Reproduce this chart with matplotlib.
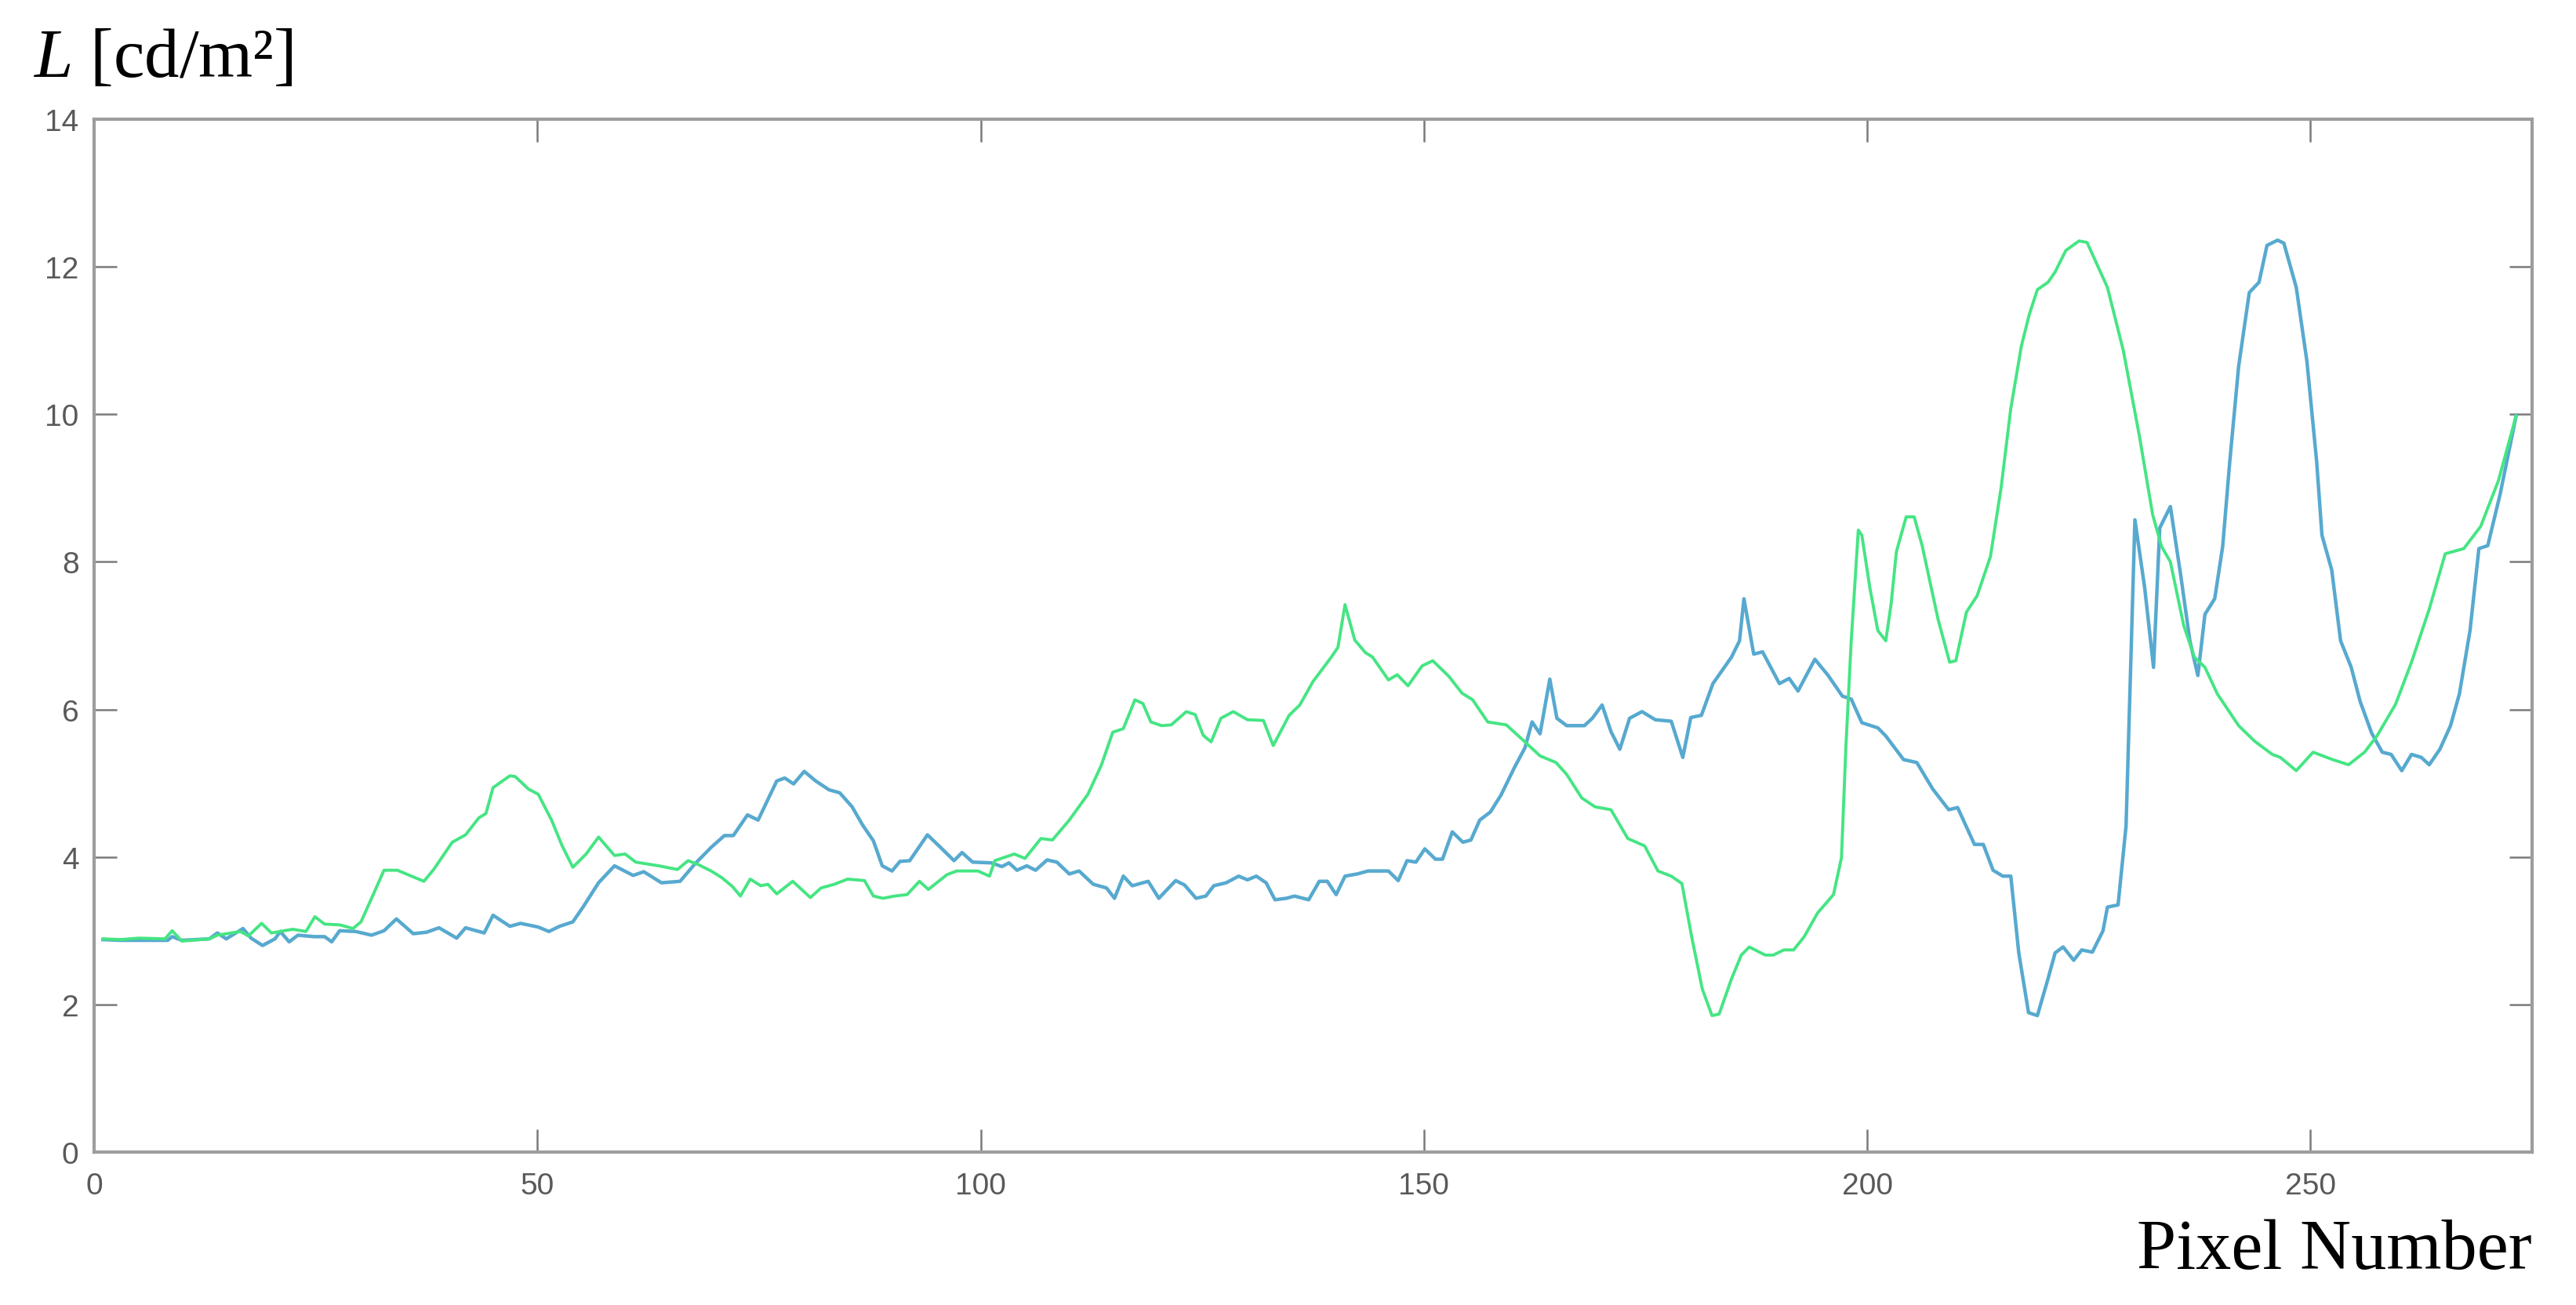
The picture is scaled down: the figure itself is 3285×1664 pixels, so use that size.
##Imports

import numpy as np
from matplotlib import pyplot as plt

##Donnees

# courbe bleue (x = numero de pixel, y = luminance)
blue_x = [1, 3, 5, 8.3, 8.8, 9.9, 13, 13.9, 14.9, 16.8, 17.7, 19, 20.4, 21, 22, 23, 24.8, 26, 26.8, 27.7,
          29.5, 31.3, 32.7, 34.1, 36, 37.5, 38.9, 40.9, 41.9, 44, 45, 46.9, 48.1, 50.1, 51.3, 52.5, 54, 55.2,
          56.9, 58.7, 60.8, 62, 64, 66.1, 67.8, 69.6, 71.1, 72.1, 73.7, 74.9, 77, 77.9, 78.9, 80.1, 81.4, 82.9,
          84.1, 85.5, 86.7, 87.9, 88.9, 90, 90.9, 92, 94, 95.3, 97, 97.9, 99.1, 101.2, 102.4, 103.2, 104.1,
          105.2, 106.2, 107.5, 108.6, 110, 111.1, 112.7, 114.2, 115.1, 116.1, 117.1, 118.9, 120.1, 122, 123,
          124.3, 125.4, 126.3, 127.7, 129.1, 130.1, 131.1, 132.2, 133.2, 134.5, 135.4, 137, 138.2, 139.1,
          140.1, 141.1, 142.5, 143.7, 146, 147.1, 148.1, 149.1, 150.1, 151.3, 152.1, 153.2, 154.4, 155.3,
          156.3, 157.5, 158.7, 160.2, 161.4, 162.2, 163.1, 164.2, 165, 166.1, 168.1, 169, 170.1, 171.1, 172.1,
          173.2, 174.6, 176.1, 177.9, 179.2, 180.1, 181.3, 182.6, 184.7, 185.6, 186.1, 187.2, 188.2, 190.1,
          191.2, 192.2, 194.1, 195.6, 197.2, 198.2, 199.4, 201.2, 202.1, 204.1, 205.6, 207.4, 209.2, 210.2,
          212.1, 213.1, 214.2, 215.3, 216.2, 217.1, 218.2, 219.2, 220.4, 221.2, 222.1, 223.3, 224.2, 225.4,
          226.6, 227.1, 228.3, 229.2, 229.8, 230.2, 231.3, 232.3, 233, 234.2, 235.4, 236.4, 237.3, 238.1,
          239.2, 240.1, 240.9, 241.9, 243.1, 244.2, 245.1, 246.3, 247, 248.4, 249.6, 250.7, 251.3, 252.4,
          253.4, 254.6, 255.6, 256.9, 258.1, 259.1, 260.3, 261.4, 262.5, 263.4, 264.6, 265.8, 266.8, 268,
          269, 270, 271.4, 273.2]
blue_y = [2.88, 2.87, 2.87, 2.87, 2.92, 2.87, 2.89, 2.97, 2.89, 3.03, 2.90, 2.80, 2.89, 2.99, 2.85, 2.94, 2.92,
          2.92, 2.85, 3.00, 2.99, 2.94, 3.00, 3.16, 2.96, 2.98, 3.04, 2.90, 3.04, 2.97, 3.21, 3.06, 3.10, 3.05,
          2.99, 3.06, 3.12, 3.33, 3.65, 3.88, 3.75, 3.80, 3.65, 3.67, 3.91, 4.13, 4.29, 4.29, 4.57, 4.50, 5.03,
          5.07, 4.99, 5.16, 5.03, 4.91, 4.87, 4.68, 4.43, 4.22, 3.88, 3.81, 3.94, 3.95, 4.30, 4.15, 3.95, 4.06,
          3.93, 3.92, 3.87, 3.92, 3.82, 3.88, 3.82, 3.96, 3.93, 3.77, 3.81, 3.63, 3.58, 3.44, 3.74, 3.61, 3.67,
          3.44, 3.68, 3.62, 3.44, 3.47, 3.61, 3.65, 3.74, 3.69, 3.74, 3.65, 3.42, 3.44, 3.47, 3.42, 3.67, 3.67,
          3.49, 3.74, 3.77, 3.81, 3.81, 3.68, 3.95, 3.93, 4.11, 3.97, 3.97, 4.34, 4.20, 4.23, 4.50, 4.61, 4.84,
          5.21, 5.48, 5.83, 5.67, 6.41, 5.88, 5.78, 5.78, 5.88, 6.06, 5.70, 5.46, 5.88, 5.97, 5.86, 5.84, 5.35,
          5.89, 5.92, 6.35, 6.71, 6.93, 7.50, 6.75, 6.78, 6.35, 6.42, 6.25, 6.68, 6.46, 6.18, 6.14, 5.82, 5.75,
          5.64, 5.32, 5.28, 4.92, 4.64, 4.67, 4.17, 4.17, 3.82, 3.74, 3.74, 2.70, 1.89, 1.85, 2.35, 2.70, 2.78,
          2.60, 2.74, 2.71, 3.00, 3.32, 3.35, 4.42, 6.93, 8.57, 7.65, 6.57, 8.46, 8.75, 7.79, 6.93, 6.46, 7.29,
          7.50, 8.21, 9.36, 10.65, 11.65, 11.79, 12.29, 12.36, 12.32, 11.72, 10.72, 9.36, 8.36, 7.89, 6.93,
          6.57, 6.11, 5.68, 5.42, 5.39, 5.17, 5.39, 5.35, 5.25, 5.46, 5.78, 6.21, 7.07, 8.18, 8.22, 8.92, 9.98]

# courbe verte
green_x = [1, 3, 5, 8, 8.8, 9.9, 13, 13.9, 16.5, 17.4, 18.9, 20, 22.4, 23.9, 24.9, 26, 27.7, 29.2, 30.1, 31.3,
           32.7, 34.2, 37.2, 38.3, 40.4, 41.9, 43.4, 44.2, 45, 46.9, 47.5, 49, 50.1, 51.6, 52.8, 54, 55.5, 56.9,
           58.7, 59.9, 61.1, 63.7, 65.8, 67, 68.1, 69.6, 70.8, 72, 72.9, 74, 75.2, 76, 77, 78.8, 80.8, 82, 83.5,
           85, 86.9, 87.9, 89, 90.3, 91.7, 93.1, 94.1, 96.2, 97.3, 99.7, 101, 101.6, 103.8, 105, 106.8, 108.1,
           110, 112.1, 113.6, 114.9, 116.1, 117.4, 118.3, 119.2, 120.4, 121.5, 123.2, 124.2, 125.1, 126, 127.1,
           128.5, 130.1, 131.9, 133, 134.8, 136, 137.5, 139.5, 140.3, 141.1, 142.2, 143.4, 144.2, 146, 147,
           148.2, 149.8, 151, 152.8, 154.3, 155.5, 157.2, 159.3, 161.4, 163.1, 164.9, 166.1, 167.8, 169.3,
           171.1, 173, 174.9, 176.4, 177.9, 179.1, 180.2, 181.4, 182.5, 183.3, 184.7, 185.8, 186.7, 188.5,
           189.4, 190.6, 191.7, 192.9, 194.4, 196.2, 197.1, 197.6, 198.2, 199, 199.4, 200.3, 201.2, 202.1,
           202.7, 203.3, 204.4, 205.3, 206.2, 208, 209.3, 210, 211.2, 212.4, 213.9, 215.1, 216.2, 217.4, 218.3,
           219.2, 220.4, 221.2, 222.4, 223.9, 224.8, 227.1, 228.9, 230.7, 232.2, 233.2, 234.2, 235.7, 236.9,
           238.1, 239.5, 241.9, 243.7, 245.7, 246.6, 248.4, 250.3, 252.5, 254.3, 256.1, 257.5, 259.6, 261.4,
           263.4, 265.2, 267.3, 269.2, 271.2, 273.2]
green_y = [2.89, 2.88, 2.90, 2.89, 3.00, 2.86, 2.89, 2.94, 2.99, 2.93, 3.10, 2.97, 3.02, 2.99, 3.19, 3.09, 3.08,
           3.03, 3.12, 3.44, 3.82, 3.82, 3.67, 3.83, 4.20, 4.30, 4.53, 4.59, 4.94, 5.10, 5.09, 4.92, 4.85, 4.50,
           4.15, 3.86, 4.04, 4.27, 4.02, 4.04, 3.93, 3.88, 3.83, 3.95, 3.90, 3.81, 3.72, 3.60, 3.47, 3.70, 3.61,
           3.63, 3.50, 3.67, 3.45, 3.58, 3.63, 3.70, 3.68, 3.47, 3.44, 3.47, 3.49, 3.67, 3.56, 3.76, 3.81, 3.81,
           3.74, 3.95, 4.04, 3.98, 4.25, 4.23, 4.50, 4.85, 5.24, 5.69, 5.74, 6.13, 6.08, 5.83, 5.78, 5.79, 5.97,
           5.93, 5.65, 5.56, 5.88, 5.97, 5.86, 5.85, 5.51, 5.92, 6.06, 6.38, 6.70, 6.84, 7.42, 6.94, 6.77, 6.71,
           6.40, 6.47, 6.32, 6.59, 6.66, 6.45, 6.22, 6.13, 5.83, 5.79, 5.56, 5.37, 5.28, 5.12, 4.80, 4.68, 4.64,
           4.25, 4.15, 3.81, 3.74, 3.64, 2.92, 2.21, 1.85, 1.87, 2.35, 2.67, 2.78, 2.67, 2.67, 2.74, 2.74, 2.92,
           3.24, 3.49, 3.99, 5.50, 6.93, 8.43, 8.36, 7.65, 7.07, 6.93, 7.43, 8.14, 8.61, 8.61, 8.22, 7.22, 6.64,
           6.66, 7.32, 7.54, 8.07, 9.00, 10.08, 10.93, 11.36, 11.69, 11.79, 11.93, 12.22, 12.35, 12.33, 11.72,
           10.86, 9.71, 8.64, 8.21, 8.00, 7.14, 6.71, 6.57, 6.21, 5.78, 5.57, 5.39, 5.35, 5.17, 5.42, 5.32, 5.25,
           5.42, 5.64, 6.07, 6.64, 7.36, 8.11, 8.18, 8.48, 9.10, 9.98]

x_ticks = [0, 50, 100, 150, 200, 250]
y_ticks = [0, 2, 4, 6, 8, 10, 12, 14]

##Figure

W, H = 3285, 1665
fig = plt.figure(figsize=(W / 100, H / 100), dpi=100)
ax = fig.add_axes([120 / W, 1 - 1470 / H, (3229 - 120) / W, (1470 - 153) / H])

ax.plot(blue_x, blue_y, color='#57a9cf', linewidth=3.2, solid_joinstyle='round')  # bleu dessous
ax.plot(green_x, green_y, color='#45e583', linewidth=2.8, solid_joinstyle='round')  # vert par dessus

ax.set_xlim(0, 275)
ax.set_ylim(0, 14)
ax.set_xticks(x_ticks)
ax.set_yticks(y_ticks)

# style "matlab" : ticks vers l'interieur des 4 cotes, axes gris
for s in ax.spines.values():
    s.set_color('#9d9d9d')
    s.set_linewidth(3)
ax.tick_params(direction='in', length=21, width=1.8, color='#7a7a7a',
               top=True, right=True, labelsize=28, labelcolor='#595959')
ax.tick_params(axis='x', pad=18)
ax.tick_params(axis='y', pad=14)
for lab in ax.get_xticklabels() + ax.get_yticklabels():
    lab.set_family(['Liberation Sans Narrow', 'Liberation Sans'])

# titres des axes en police serif
plt.rcParams['mathtext.fontset'] = 'custom'
plt.rcParams['mathtext.rm'] = 'Liberation Serif'
plt.rcParams['mathtext.it'] = 'Liberation Serif:italic'
fig.text(42 / W, 1 - 98 / H, r'$L$ [cd/m²]', family='Liberation Serif', fontsize=64,
         ha='left', va='baseline')
fig.text(3229 / W, 1 - 1618 / H, 'Pixel Number', family='Liberation Serif', fontsize=65,
         ha='right', va='baseline')

fig.savefig('out.png', dpi=100, facecolor='white')
